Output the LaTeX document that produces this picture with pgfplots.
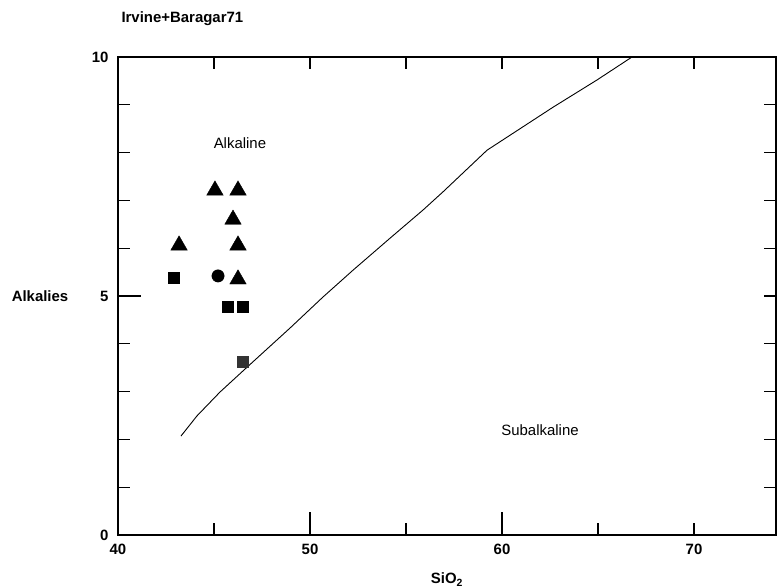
\documentclass[border=0pt]{standalone}
\usepackage{fontspec}
\setmainfont{Liberation Sans}
\usepackage{pgfplots}
\pgfplotsset{compat=1.18}

\begin{document}
\begin{tikzpicture}
  \begin{axis}[
      scale only axis,
      width=658bp, height=478bp,
      xmin=40, xmax=74.27,
      ymin=0, ymax=10,
      axis line style={line width=1.5bp},
      xtick={40,50,60,70},
      minor xtick={45,55,65},
      ytick={0,5,10},
      minor ytick={1,2,3,4,6,7,8,9},
      tick align=inside,
      major tick length=12bp,
      minor tick length=12bp,
      tick style={line width=1.2bp, black},
      /pgf/number format/assume math mode=true,
      ticklabel style={font=\bfseries\fontsize{15}{15}\selectfont},
      xticklabel style={yshift=-6bp},
      yticklabel style={xshift=-6bp},
      xlabel={SiO\textsubscript{2}},
      xlabel style={font=\bfseries\fontsize{15}{15}\selectfont,
        at={(axis description cs:0.5,-0.1025)}, anchor=base},
      ylabel={Alkalies},
      ylabel style={font=\bfseries\fontsize{15}{15}\selectfont, rotate=-90,
        at={(axis description cs:-0.1185,0.5)}, anchor=center},
      title={Irvine+Baragar71},
      title style={font=\bfseries\fontsize{15}{15}\selectfont,
        at={(axis description cs:0,1.0594)}, anchor=base west},
      clip=false,
    ]

    % Irvine & Baragar (1971) dividing curve
    \addplot[black, line width=0.9bp] coordinates {
        (43.28,2.07) (44.11,2.49) (45.31,2.99) (46.72,3.51) (48.96,4.33)
        (50.68,4.98) (52.24,5.54) (54.17,6.21) (55.89,6.80) (56.93,7.18)
        (59.22,8.05) (62.66,8.95) (64.95,9.52) (66.77,10.0)
      };

    % samples
    \addplot[only marks, mark=triangle*, mark size=9.5bp, black] coordinates {
        (45.05,7.21) (46.25,7.21) (45.99,6.60) (43.18,6.06) (46.25,6.06) (46.25,5.35)
      };
    \addplot[only marks, mark=*, mark size=6.2bp, black] coordinates {
        (45.21,5.42)
      };
    \addplot[only marks, mark=square*, mark size=5.5bp, black] coordinates {
        (42.92,5.38) (45.73,4.77) (46.51,4.77)
      };
    \addplot[only marks, mark=square*, mark size=5.5bp, black!80] coordinates {
        (46.51,3.62)
      };

    \node[font=\fontsize{15}{15}\selectfont] at (axis cs:46.35,8.2) {Alkaline};
    \node[font=\fontsize{15}{15}\selectfont] at (axis cs:61.98,2.2) {Subalkaline};

    % longer major ticks
    \draw[line width=1.2bp] (axis cs:50,0) -- (axis cs:50,0.48);
    \draw[line width=1.2bp] (axis cs:60,0) -- (axis cs:60,0.48);
    \draw[line width=1.2bp] (axis cs:40,5) -- (axis cs:41.2,5);
  \end{axis}
  \pgfresetboundingbox
  \path[use as bounding box] (current axis.south west) ++(-118bp,-53bp) rectangle ++(777bp,588bp);
\end{tikzpicture}
\end{document}
